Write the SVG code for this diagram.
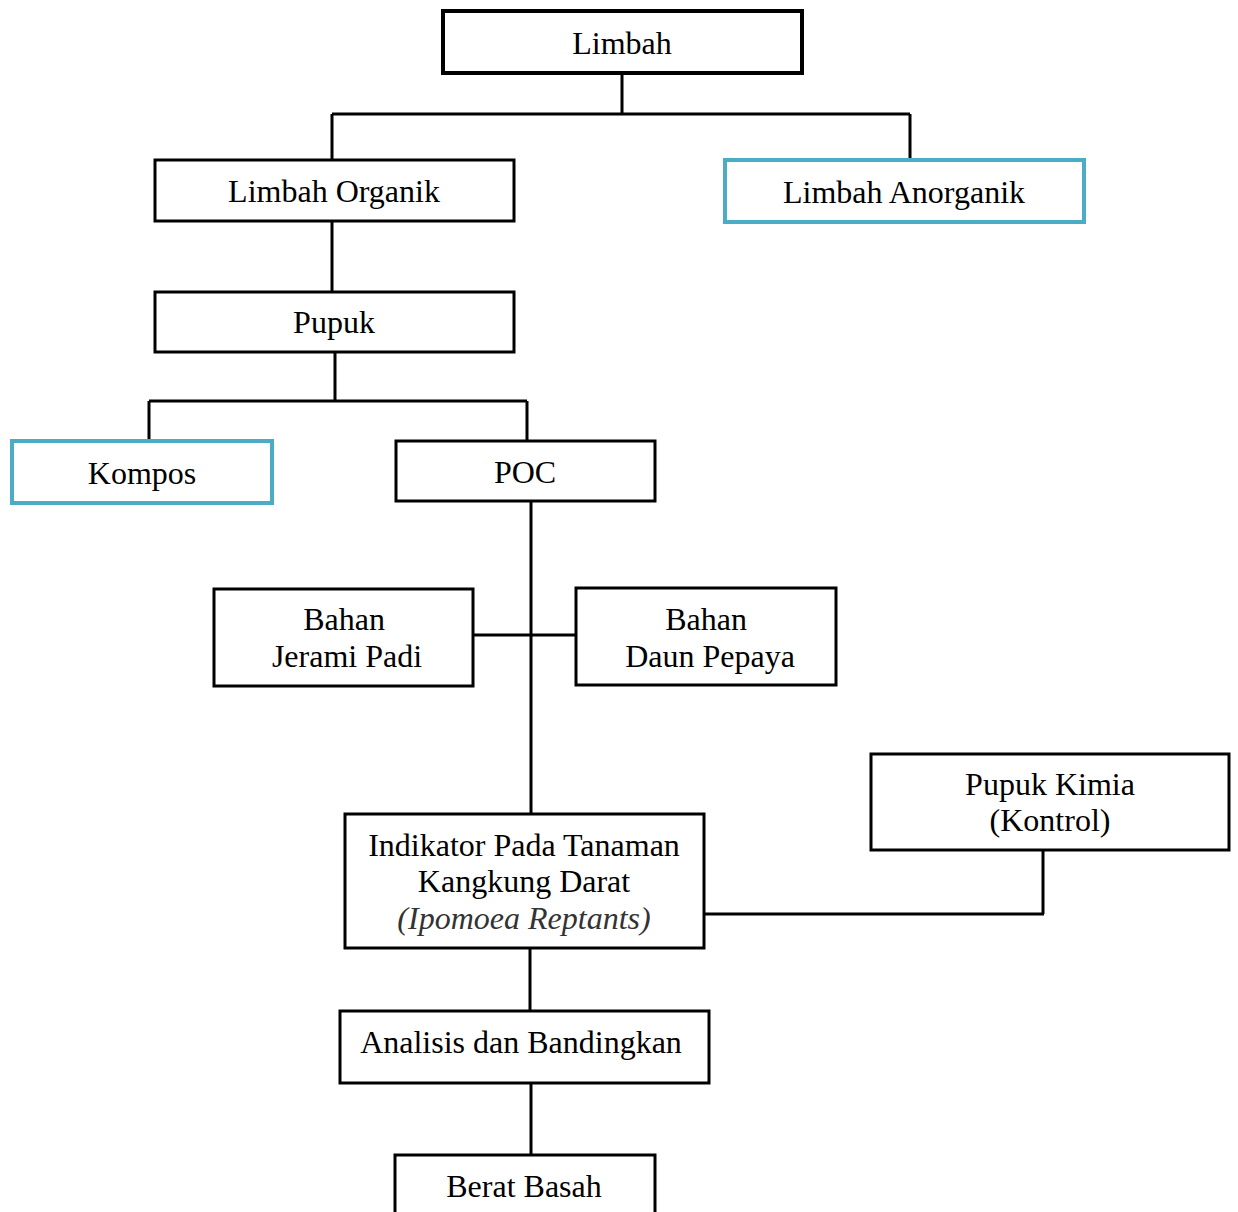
<svg xmlns="http://www.w3.org/2000/svg" width="1238" height="1212" viewBox="0 0 1238 1212">
<style>
  .box { fill: #fff; stroke: #000; stroke-width: 3; }
  .blue { fill: #fff; stroke: #4BACC6; stroke-width: 4; }
  .thick { stroke-width: 4; }
  text { font-family: "Liberation Serif", "Times New Roman", serif; font-size: 32px; fill: #000; text-anchor: middle; }
  .it { font-style: italic; fill: #333; }
  .conn { fill: none; stroke: #000; stroke-width: 3; }
</style>
<rect width="1238" height="1212" fill="#fff"/>
<g id="connectors">
  <path class="conn" d="M622 73V114M332 114H910M332 114V160M910 114V162"/>
  <path class="conn" d="M332 221V292"/>
  <path class="conn" d="M335 352V401M149 401H527M149 401V441M527 401V441"/>
  <path class="conn" d="M531 501V814M473 635H576"/>
  <path class="conn" d="M704 914H1044M1043 850V914"/>
  <path class="conn" d="M530 948V1011"/>
  <path class="conn" d="M531 1083V1155"/>
</g>
<g id="limbah"><rect class="box thick" x="443" y="11" width="359" height="62"/><text x="622" y="54">Limbah</text></g>
<g id="limbah-organik"><rect class="box" x="155" y="160" width="359" height="61"/><text x="334" y="202">Limbah Organik</text></g>
<g id="limbah-anorganik"><rect class="blue" x="725" y="160" width="359" height="62"/><text x="904" y="203">Limbah Anorganik</text></g>
<g id="pupuk"><rect class="box" x="155" y="292" width="359" height="60"/><text x="334" y="333">Pupuk</text></g>
<g id="kompos"><rect class="blue" x="12" y="441" width="260" height="62"/><text x="142" y="484">Kompos</text></g>
<g id="poc"><rect class="box" x="396" y="441" width="259" height="60"/><text x="525" y="483">POC</text></g>
<g id="jerami"><rect class="box" x="214" y="589" width="259" height="97"/><text x="344" y="630">Bahan</text><text x="347" y="667">Jerami Padi</text></g>
<g id="pepaya"><rect class="box" x="576" y="588" width="260" height="97"/><text x="706" y="630">Bahan</text><text x="710" y="667">Daun Pepaya</text></g>
<g id="pupuk-kimia"><rect class="box" x="871" y="754" width="358" height="96"/><text x="1050" y="795">Pupuk Kimia</text><text x="1050" y="831">(Kontrol)</text></g>
<g id="indikator"><rect class="box" x="345" y="814" width="359" height="134"/><text x="524" y="856">Indikator Pada Tanaman</text><text x="524" y="892">Kangkung Darat</text><text class="it" x="524" y="929">(Ipomoea Reptants)</text></g>
<g id="analisis"><rect class="box" x="340" y="1011" width="369" height="72"/><text x="521" y="1053">Analisis dan Bandingkan</text></g>
<g id="berat"><rect class="box" x="395" y="1155" width="260" height="70"/><text x="524" y="1197">Berat Basah</text></g>
</svg>
